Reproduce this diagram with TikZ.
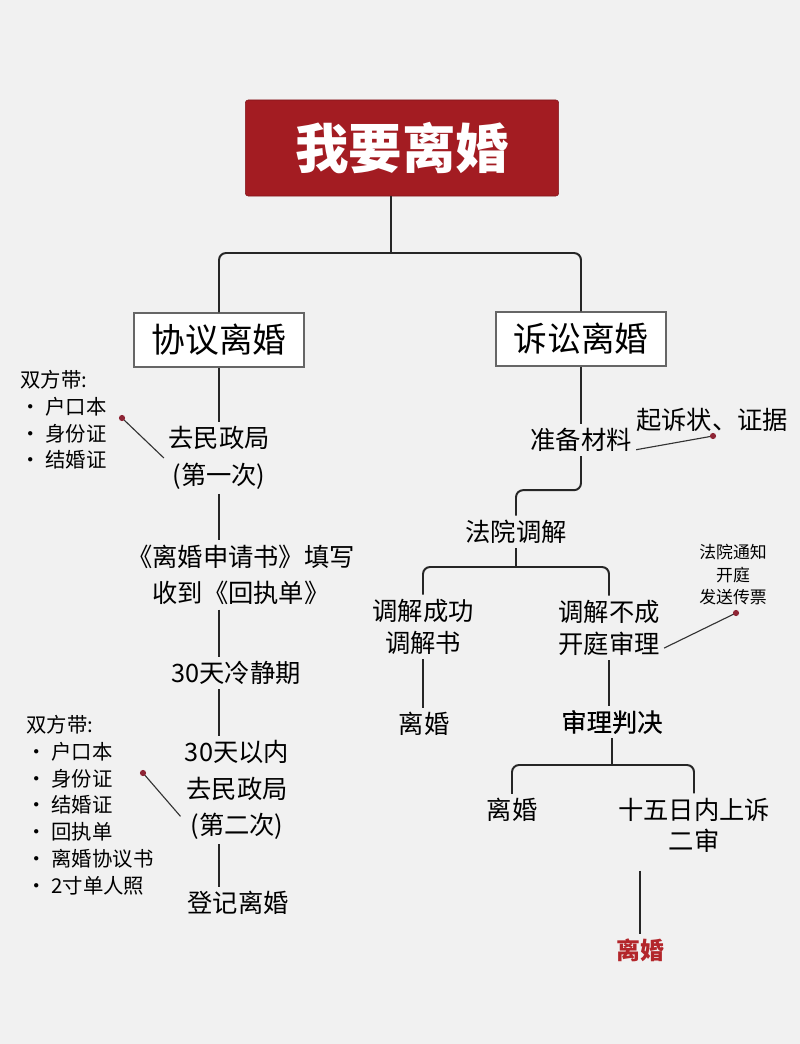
\documentclass[tikz,border=0pt]{standalone}
\usepackage{fontspec}
\setmainfont{Noto Sans CJK SC}
\newfontfamily\midfont[FakeBold=0.5]{Noto Sans CJK SC}
\definecolor{titlered}{HTML}{A31C22}
\definecolor{dotred}{HTML}{8E2535}
\definecolor{bggray}{HTML}{F1F1F1}
\definecolor{endred}{HTML}{B3262B}
\tikzset{
  flowline/.style={line width=1.4pt, black!85},
  branch/.style={flowline, rounded corners=5pt},
  pinline/.style={line width=0.8pt, black!80},
  titlebox/.style={fill=titlered, draw=titlered!80!black, rounded corners=2pt, text=white,
    font=\bfseries\fontsize{38pt}{42pt}\selectfont, minimum width=7.83cm, minimum height=2.4cm},
  typebox/.style={draw=black!60, line width=0.8pt, fill=white,
    font=\fontsize{24pt}{28pt}\selectfont, minimum width=4.25cm, minimum height=1.35cm},
  stage/.style={align=center, inner sep=3pt, font=\fontsize{18pt}{26pt}\selectfont},
  note/.style={align=left, anchor=north west, inner sep=3pt, font=\fontsize{14.5pt}{19pt}\selectfont},
  smallnote/.style={align=center, inner sep=2pt, font=\fontsize{12pt}{16pt}\selectfont},
  final/.style={stage, text=endred, font=\bfseries\fontsize{17pt}{22pt}\selectfont}
}
\begin{document}
\begin{tikzpicture}[x=0.025cm,y=-0.025cm]
\fill[bggray] (0,0) rectangle (800,1044);
\useasboundingbox (0,0) rectangle (800,1044);

% Title
\node[titlebox] (title) at (402,148) {我要离婚};

% Two ways
\node[typebox] (xy) at (219,340) {协议离婚};
\node[typebox] (ss) at (581,339) {诉讼离婚};
\coordinate (split1) at (391,253);
\draw[flowline] (split1 |- title.south) -- (split1);
\draw[branch] (split1) -| (xy.north);
\draw[branch] (split1) -| (ss.north);

% Left column
\node[stage] (mz1) at (219,458) {去民政局\\(第一次)};
\node[stage] (sq) at (241,575) {《离婚申请书》填写\\收到《回执单》};
\node[stage] (lj) at (236,673) {30天冷静期};
\node[stage] (mz2) at (237,790) {30天以内\\去民政局\\(第二次)};
\node[stage] (dj) at (238,903) {登记离婚};
\draw[flowline] (xy.south) -- (mz1.north);
\draw[flowline] (mz1.south) -- (mz1.south |- sq.north);
\draw[flowline] (mz1.south |- sq.south) -- (mz1.south |- lj.north);
\draw[flowline] (mz1.south |- lj.south) -- (mz1.south |- mz2.north);
\draw[flowline] (mz1.south |- mz2.south) -- (mz1.south |- dj.north);

% Left notes
\node[note] (dai1) at (16,366) {双方带:\\· 户口本\\· 身份证\\· 结婚证};
\coordinate (pin1) at (122,418);
\draw[pinline] (pin1) -- (mz1.west);
\fill[dotred] (pin1) circle (2.2pt);
\node[note] (dai2) at (22,711) {双方带:\\· 户口本\\· 身份证\\· 结婚证\\· 回执单\\· 离婚协议书\\· 2寸单人照};
\coordinate (pin2) at (143,773);
\draw[pinline] (pin2) -- (mz2.-155);
\fill[dotred] (pin2) circle (2.2pt);

% Right column
\node[stage] (zb) at (581,440) {准备材料};
\node[stage] (qs) at (712,420) {起诉状、证据};
\coordinate (pin3) at (713,436);
\draw[pinline] (zb.-10) -- (pin3);
\fill[dotred] (pin3) circle (2.2pt);
\node[stage] (fy) at (516,532) {法院调解};
\draw[flowline] (ss.south) -- (zb.north);
\draw[branch] (zb.south) -- ++(0,34) -| (fy.north);

\coordinate (split2) at (516,567);
\node[stage, font=\fontsize{18pt}{23pt}\selectfont] (tj1) at (423,627) {调解成功\\调解书};
\node[stage, font=\fontsize{18pt}{23pt}\selectfont] (tj2) at (609,628) {调解不成\\开庭审理};
\draw[flowline] (fy.south) -- (split2);
\draw[branch] (split2) -| (tj1.north);
\draw[branch] (split2) -| (tj2.north);

\node[smallnote] (tz) at (733,575) {法院通知\\开庭\\发送传票};
\coordinate (pin4) at (736,613);
\draw[pinline] (tj2.-20) -- (pin4);
\fill[dotred] (pin4) circle (2.2pt);

\node[stage] (lh1) at (424,724) {离婚};
\node[stage, font=\midfont\fontsize{18pt}{26pt}\selectfont] (sp) at (612,722) {审理判决};
\draw[flowline] (tj1.south) -- (tj1.south |- lh1.north);
\draw[flowline] (tj2.south) -- (tj2.south |- sp.north);

\coordinate (split3) at (612,765);
\node[stage] (lh2) at (512,810) {离婚};
\node[stage, font=\fontsize{18pt}{22pt}\selectfont] (es) at (694,825) {十五日内上诉\\二审};
\draw[flowline] (sp.south) -- (split3);
\draw[branch] (split3) -| (lh2.north);
\draw[branch] (split3) -| (es.north);

\node[final] (lh3) at (640,950) {离婚};
\draw[flowline, shorten <=10pt] (lh3.north |- es.south) -- (lh3.north);
\end{tikzpicture}
\end{document}
